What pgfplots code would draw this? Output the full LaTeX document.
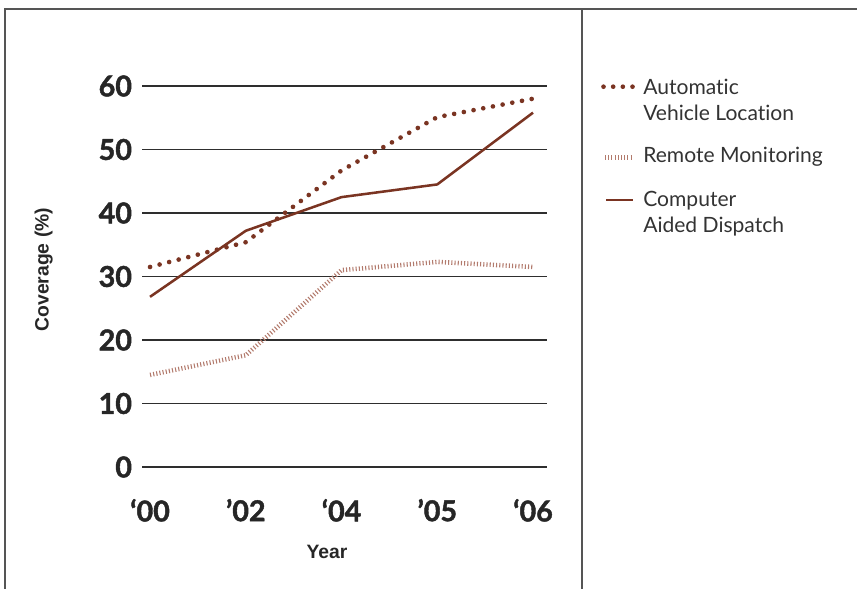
\documentclass[border=0pt]{standalone}
\usepackage{pgfplots}
\pgfplotsset{compat=1.18}
\usepackage{fontspec}
\setmainfont{Lato}[Ligatures={NoCommon}]
\newfontfamily\tickfont{Lato}[BoldFeatures={FakeBold=1.5}]
\newfontfamily\labfont{Liberation Sans}
\definecolor{rust}{HTML}{7A3422}
\definecolor{rustlight}{HTML}{B27A6C}
\definecolor{txt}{HTML}{333333}
\definecolor{frame}{HTML}{555555}
\begin{document}
\begin{tikzpicture}[x=0.75pt,y=0.75pt]
\path[use as bounding box] (0,0) rectangle (857,589);
\draw[line width=1.5pt, frame] (5,0) -- (5,579.5) -- (857,579.5);
\draw[line width=1.5pt, frame] (582,0) -- (582,579.5);
\begin{axis}[
  at={(106.5pt,91.5pt)}, anchor=south west,
  scale only axis, width=303.75pt, height=285.75pt,
  xmin=-0.084, xmax=4.146, ymin=0, ymax=60,
  axis line style={draw=none},
  major tick length=0pt,
  ytick={0,10,...,60},
  xtick={0,1,2,3,4},
  xticklabels={‘00,’02,‘04,’05,‘06},
  ymajorgrids,
  grid style={line width=1.3pt, color=black!82},
  /pgf/number format/assume math mode=true,
  tick label style={font=\tickfont\fontsize{21.5}{24}\selectfont\bfseries, text=black!85},
  yticklabel style={xshift=-4pt},
  xticklabel style={yshift=-20.5pt},
  ylabel={Coverage (\%)},
  xlabel={Year},
  label style={font=\labfont\fontsize{14.5}{16}\selectfont\bfseries, text=black!85},
  ylabel style={at={(axis description cs:-0.243,0.518)}, anchor=center, rotate=0},
  xlabel style={at={(axis description cs:0.457,-0.224)}, anchor=center},
  clip=false,
]
\addplot[rust, line width=3.5pt, line cap=round, dash pattern=on 0pt off 7.4pt] coordinates {(0,31.5) (1,35.4) (2,46.7) (3,55.1) (4,58.0)};
\addplot[rustlight, line width=3.4pt, dash pattern=on 0.8pt off 1.6pt] coordinates {(0,14.5) (1,17.6) (2,31.0) (3,32.3) (4,31.5)};
\addplot[rust, line width=1.9pt] coordinates {(0,26.8) (1,37.2) (2,42.5) (3,44.5) (4,55.8)};
\end{axis}
% legend
\draw[rust, line width=3.5pt, line cap=round, dash pattern=on 0pt off 7.25pt] (603.5,502.3) -- (632.6,502.3);
\draw[rustlight, line width=3.4pt, dash pattern=on 0.8pt off 1.6pt] (605,431.7) -- (631,431.7);
\draw[rust, line width=1.9pt] (606,389) -- (633,389);
\begin{scope}[every node/.style={anchor=base west, inner sep=0pt, text=txt, font=\fontsize{15.8}{18}\selectfont}]
\node at (643,494) {Automatic};
\node at (643,468.3) {Vehicle Location};
\node at (643,426.3) {Remote Monitoring};
\node at (643,382.3) {Computer};
\node at (643,356.7) {Aided Dispatch};
\end{scope}
\end{tikzpicture}
\end{document}
